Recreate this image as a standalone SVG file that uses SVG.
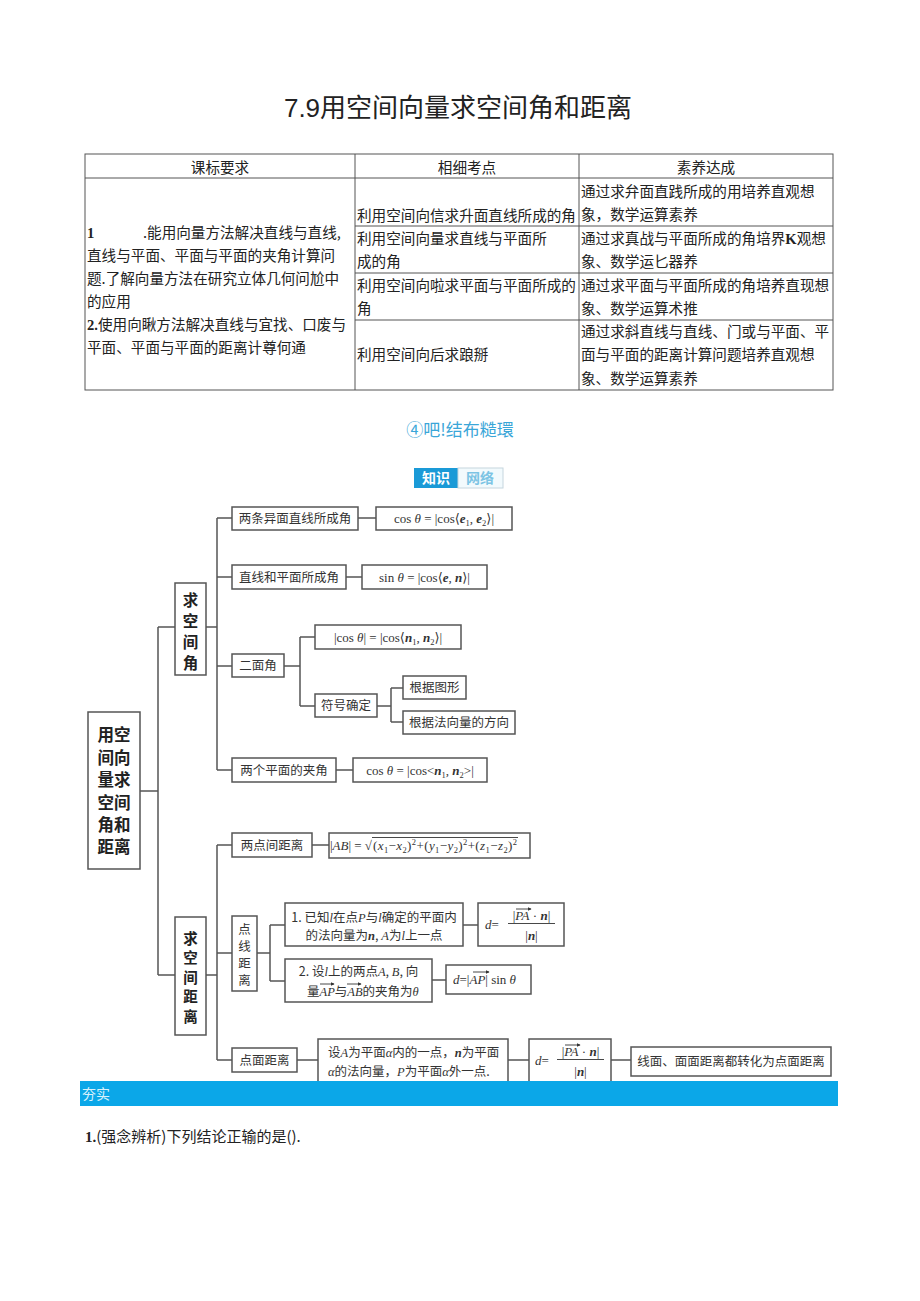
<svg xmlns="http://www.w3.org/2000/svg" width="920" height="1301" viewBox="0 0 920 1301">
<style>
.cj{font-family:'Noto Sans CJK SC',sans-serif;fill:#222}
.t{font-size:14.6px}
.bd{font-family:'Liberation Serif',serif;font-weight:bold}
.tl{stroke:#555;stroke-width:1;fill:none}
.b{fill:#fff;stroke:#555;stroke-width:1.5}
.n{font-family:'Noto Sans CJK SC',sans-serif;font-size:12.5px;fill:#333}
.hd{font-family:'Noto Sans CJK SC',sans-serif;font-weight:bold;fill:#222}
.m{font-family:'Liberation Serif','DejaVu Serif',serif;font-size:13px;fill:#333}
.mi{font-family:'Liberation Serif','DejaVu Serif',serif;font-style:italic}
.i{font-style:italic}
.bi{font-style:italic;font-weight:bold}
.s{font-size:8.5px}
.c{stroke:#555;stroke-width:1.5;fill:none}
.va{stroke:#333;stroke-width:0.9;fill:none}
</style>
<defs>
<marker id="ah" viewBox="0 0 6 6" refX="5" refY="3" markerWidth="4" markerHeight="4" orient="auto">
<path d="M0,0 L6,3 L0,6 z" fill="#333"/>
</marker>
</defs>
<rect width="920" height="1301" fill="#fff"/>

<!-- title -->
<text x="458" y="117" text-anchor="middle" font-family="'Liberation Sans','Noto Sans CJK SC',sans-serif" font-size="26" fill="#222">7.9用空间向量求空间角和距离</text>

<!-- table -->
<g id="table">
<rect x="85" y="154" width="748" height="236" class="tl"/>
<path class="tl" d="M85 178 H833 M355 154 V390 M579 154 V390 M355 226 H833 M355 273 H833 M355 320 H833"/>
<g class="cj t">
<text x="220" y="173" text-anchor="middle">课标要求</text>
<text x="467" y="173" text-anchor="middle">相细考点</text>
<text x="706" y="173" text-anchor="middle">素养达成</text>
<text x="87" y="238"><tspan class="bd">1</tspan></text>
<text x="143" y="238">.能用向量方法解决直线与直线,</text>
<text x="87" y="261">直线与平面、平面与平面的夹角计算问</text>
<text x="87" y="284">题.了解向量方法在研究立体几何问尬中</text>
<text x="87" y="307">的应用</text>
<text x="87" y="330"><tspan class="bd">2.</tspan>使用向瞅方法解决直线与宜找、口废与</text>
<text x="87" y="353">平面、平面与平面的距离计尊何通</text>
<text x="357" y="221">利用空间向信求升面直线所成的角</text>
<text x="357" y="244">利用空间向量求直线与平面所</text>
<text x="357" y="267">成的角</text>
<text x="357" y="291">利用空间向啦求平面与平面所成的</text>
<text x="357" y="314">角</text>
<text x="357" y="360">利用空间向后求踉掰</text>
<text x="581" y="197">通过求弁面直践所成的用培养直观想</text>
<text x="581" y="220">象，数学运算素养</text>
<text x="581" y="244">通过求真战与平面所成的角培界<tspan class="bd">K</tspan>观想</text>
<text x="581" y="267">象、数学运匕器养</text>
<text x="581" y="291">通过求平面与平面所成的角培养直现想</text>
<text x="581" y="314">象、数学运算术推</text>
<text x="581" y="337">通过求斜直线与直线、门或与平面、平</text>
<text x="581" y="360">面与平面的距离计算问题培养直观想</text>
<text x="581" y="384">象、数学运算素养</text>
</g>
</g>

<!-- section heading -->
<text x="460" y="436" text-anchor="middle" font-family="'Noto Sans CJK SC',sans-serif" font-size="17" fill="#3aa6d8">④吧!结布糙環</text>
<g id="badge">
<rect x="414" y="468" width="44" height="20" fill="#1a9ad7"/>
<rect x="458" y="468" width="45" height="20" fill="#f2fafd" stroke="#c6d6de" stroke-width="1"/>
<text x="436" y="483" text-anchor="middle" font-family="'Noto Sans CJK SC',sans-serif" font-size="14" font-weight="bold" fill="#fff">知识</text>
<text x="480" y="483" text-anchor="middle" font-family="'Noto Sans CJK SC',sans-serif" font-size="14" font-weight="bold" fill="#7cc4e4">网络</text>
</g>

<!-- connectors -->
<g id="connectors" class="c">
<path d="M140 791 H158 M158 627 V975 M158 627 H175 M158 975 H175"/>
<path d="M206 627 H217 M217 518 V770 M217 518 H232 M217 577 H232 M217 666 H232 M217 770 H232"/>
<path d="M358 518 H376 M346 577 H362 M336 770 H353"/>
<path d="M284 666 H300 M300 637 V706 M300 637 H315 M300 706 H315"/>
<path d="M377 706 H391 M391 688 V722 M391 688 H403 M391 722 H403"/>
<path d="M206 975 H217 M217 845 V1060 M217 845 H232 M217 953 H232 M217 1060 H232"/>
<path d="M312 845 H329"/>
<path d="M257 953 H270 M270 925 V981 M270 925 H285 M270 981 H285 M463 925 H478 M432 980 H446"/>
<path d="M297 1060 H318 M508 1060 H529 M611 1060 H631"/>
</g>

<!-- nodes -->
<g id="root">
<rect x="88" y="712" width="52" height="157" class="b"/>
<g class="hd" font-size="16.5" text-anchor="middle">
<text x="114" y="741">用空</text>
<text x="114" y="764">间向</text>
<text x="114" y="786">量求</text>
<text x="114" y="809">空间</text>
<text x="114" y="831">角和</text>
<text x="114" y="853">距离</text>
</g>
</g>

<g id="angle">
<rect x="175" y="583" width="31" height="92" class="b"/>
<g class="hd" font-size="15.5" text-anchor="middle">
<text x="190.5" y="605.5">求</text>
<text x="190.5" y="626.5">空</text>
<text x="190.5" y="647.5">间</text>
<text x="190.5" y="668.5">角</text>
</g>
</g>

<g id="distance">
<rect x="175" y="917" width="31" height="118" class="b"/>
<g class="hd" font-size="14.5" text-anchor="middle">
<text x="190.5" y="943.5">求</text>
<text x="190.5" y="963">空</text>
<text x="190.5" y="982.5">间</text>
<text x="190.5" y="1002">距</text>
<text x="190.5" y="1021.5">离</text>
</g>
</g>

<g id="a1">
<rect x="232" y="507" width="126" height="23" class="b"/>
<text x="295" y="523" text-anchor="middle" class="n">两条异面直线所成角</text>
</g>
<g id="a1f">
<rect x="376" y="507" width="136" height="23" class="b"/>
<text x="444" y="523" text-anchor="middle" class="m">cos <tspan class="i">θ</tspan> = |cos⟨<tspan class="bi">e</tspan><tspan class="s" dy="3">1</tspan><tspan dy="-3">, </tspan><tspan class="bi">e</tspan><tspan class="s" dy="3">2</tspan><tspan dy="-3">⟩|</tspan></text>
</g>

<g id="a2">
<rect x="232" y="565" width="114" height="24" class="b"/>
<text x="289" y="581.5" text-anchor="middle" class="n">直线和平面所成角</text>
</g>
<g id="a2f">
<rect x="362" y="565" width="125" height="24" class="b"/>
<text x="424.5" y="581.5" text-anchor="middle" class="m">sin <tspan class="i">θ</tspan> = |cos⟨<tspan class="bi">e</tspan>, <tspan class="bi">n</tspan>⟩|</text>
</g>

<g id="a3">
<rect x="232" y="654" width="52" height="23" class="b"/>
<text x="258" y="670" text-anchor="middle" class="n">二面角</text>
</g>
<g id="a3f">
<rect x="315" y="625" width="146" height="24" class="b"/>
<text x="388" y="641.5" text-anchor="middle" class="m">|cos <tspan class="i">θ</tspan>| = |cos⟨<tspan class="bi">n</tspan><tspan class="s" dy="3">1</tspan><tspan dy="-3">, </tspan><tspan class="bi">n</tspan><tspan class="s" dy="3">2</tspan><tspan dy="-3">⟩|</tspan></text>
</g>
<g id="a3s">
<rect x="315" y="694" width="62" height="23" class="b"/>
<text x="346" y="710" text-anchor="middle" class="n">符号确定</text>
</g>
<g id="a3s1">
<rect x="403" y="676" width="63" height="23" class="b"/>
<text x="434.5" y="692" text-anchor="middle" class="n">根据图形</text>
</g>
<g id="a3s2">
<rect x="403" y="711" width="112" height="23" class="b"/>
<text x="459" y="727" text-anchor="middle" class="n">根据法向量的方向</text>
</g>

<g id="a4">
<rect x="232" y="758" width="104" height="24" class="b"/>
<text x="284" y="774.5" text-anchor="middle" class="n">两个平面的夹角</text>
</g>
<g id="a4f">
<rect x="353" y="758" width="134" height="24" class="b"/>
<text x="420" y="774.5" text-anchor="middle" class="m">cos <tspan class="i">θ</tspan> = |cos&lt;<tspan class="bi">n</tspan><tspan class="s" dy="3">1</tspan><tspan dy="-3">, </tspan><tspan class="bi">n</tspan><tspan class="s" dy="3">2</tspan><tspan dy="-3">&gt;|</tspan></text>
</g>

<g id="d1">
<rect x="232" y="833" width="80" height="24" class="b"/>
<text x="272" y="849.5" text-anchor="middle" class="n">两点间距离</text>
</g>
<g id="d1f">
<rect x="329" y="833" width="201" height="25" class="b"/>
<text x="372" y="850" text-anchor="end" class="m">|<tspan class="i">AB</tspan>| = √</text>
<text x="373" y="850" class="m" textLength="144" lengthAdjust="spacing">(<tspan class="i">x</tspan><tspan class="s" dy="3">1</tspan><tspan dy="-3">−</tspan><tspan class="i">x</tspan><tspan class="s" dy="3">2</tspan><tspan dy="-3">)</tspan><tspan class="s" dy="-5">2</tspan><tspan dy="5">+(</tspan><tspan class="i">y</tspan><tspan class="s" dy="3">1</tspan><tspan dy="-3">−</tspan><tspan class="i">y</tspan><tspan class="s" dy="3">2</tspan><tspan dy="-3">)</tspan><tspan class="s" dy="-5">2</tspan><tspan dy="5">+(</tspan><tspan class="i">z</tspan><tspan class="s" dy="3">1</tspan><tspan dy="-3">−</tspan><tspan class="i">z</tspan><tspan class="s" dy="3">2</tspan><tspan dy="-3">)</tspan><tspan class="s" dy="-5">2</tspan></text>
<path class="va" d="M372 837.5 H518"/>
</g>

<g id="d2">
<rect x="232" y="916" width="25" height="75" class="b"/>
<g class="n" font-size="12" text-anchor="middle">
<text x="244.5" y="934">点</text>
<text x="244.5" y="951">线</text>
<text x="244.5" y="968">距</text>
<text x="244.5" y="985">离</text>
</g>
</g>
<g id="d2a">
<rect x="285" y="903" width="178" height="43" class="b"/>
<text x="374" y="921.5" text-anchor="middle" class="n">1. 已知<tspan class="mi">l</tspan>在点<tspan class="mi">P</tspan>与<tspan class="mi">l</tspan>确定的平面内</text>
<text x="374" y="939.5" text-anchor="middle" class="n">的法向量为<tspan class="mi" font-weight="bold">n</tspan>, <tspan class="mi">A</tspan>为<tspan class="mi">l</tspan>上一点</text>
</g>
<g id="d2af">
<rect x="478" y="903" width="86" height="43" class="b"/>
<text x="485" y="928.5" class="m"><tspan class="i">d</tspan>=</text>
<path class="va" d="M508 923.5 H555"/>
<text x="531.5" y="919.5" text-anchor="middle" class="m">|<tspan class="i">PA</tspan> · <tspan class="bi">n</tspan>|</text>
<path class="va" d="M516 909 H531" marker-end="url(#ah)"/>
<text x="531.5" y="940" text-anchor="middle" class="m">|<tspan class="bi">n</tspan>|</text>
</g>
<g id="d2b">
<rect x="285" y="959" width="147" height="43" class="b"/>
<text x="358.5" y="975.5" text-anchor="middle" class="n">2. 设<tspan class="mi">l</tspan>上的两点<tspan class="mi">A</tspan>, <tspan class="mi">B</tspan>, 向</text>
<text x="307" y="995.5" class="n">量<tspan class="mi">AP</tspan>与<tspan class="mi">AB</tspan>的夹角为<tspan class="mi">θ</tspan></text>
<path class="va" d="M320 984 H334" marker-end="url(#ah)"/>
<path class="va" d="M347 984 H361" marker-end="url(#ah)"/>
</g>
<g id="d2bf">
<rect x="446" y="965" width="85" height="29" class="b"/>
<text x="453" y="984" class="m"><tspan class="i">d</tspan>=|<tspan class="i">AP</tspan>| sin <tspan class="i">θ</tspan></text>
<path class="va" d="M473 972 H489" marker-end="url(#ah)"/>
</g>

<g id="d3">
<rect x="232" y="1048" width="65" height="24" class="b"/>
<text x="264.5" y="1064.5" text-anchor="middle" class="n">点面距离</text>
</g>
<g id="d3a">
<rect x="318" y="1039" width="190" height="46" class="b"/>
<text x="328" y="1057" class="n">设<tspan class="mi">A</tspan>为平面<tspan class="mi">α</tspan>内的一点，<tspan class="mi" font-weight="bold">n</tspan>为平面</text>
<text x="328" y="1076" class="n"><tspan class="mi">α</tspan>的法向量，<tspan class="mi">P</tspan>为平面<tspan class="mi">α</tspan>外一点.</text>
</g>
<g id="d3af">
<rect x="529" y="1039" width="82" height="46" class="b"/>
<text x="535" y="1064.5" class="m"><tspan class="i">d</tspan>=</text>
<path class="va" d="M557 1059.5 H604"/>
<text x="580.5" y="1055.5" text-anchor="middle" class="m">|<tspan class="i">PA</tspan> · <tspan class="bi">n</tspan>|</text>
<path class="va" d="M565 1045 H580" marker-end="url(#ah)"/>
<text x="580.5" y="1076" text-anchor="middle" class="m">|<tspan class="bi">n</tspan>|</text>
</g>
<g id="d3b">
<rect x="631" y="1047" width="200" height="29" class="b"/>
<text x="731" y="1066" text-anchor="middle" class="n">线面、面面距离都转化为点面距离</text>
</g>

<!-- blue bar -->
<rect x="80" y="1081" width="758" height="25" fill="#0ba7e8"/>
<text x="82" y="1099" font-family="'Noto Sans CJK SC',sans-serif" font-size="14" fill="#d8f1fb">夯实</text>

<text x="85" y="1142" class="cj" font-size="15"><tspan class="bd">1.</tspan>(强念辨析)下列结论正输的是().</text>
</svg>
